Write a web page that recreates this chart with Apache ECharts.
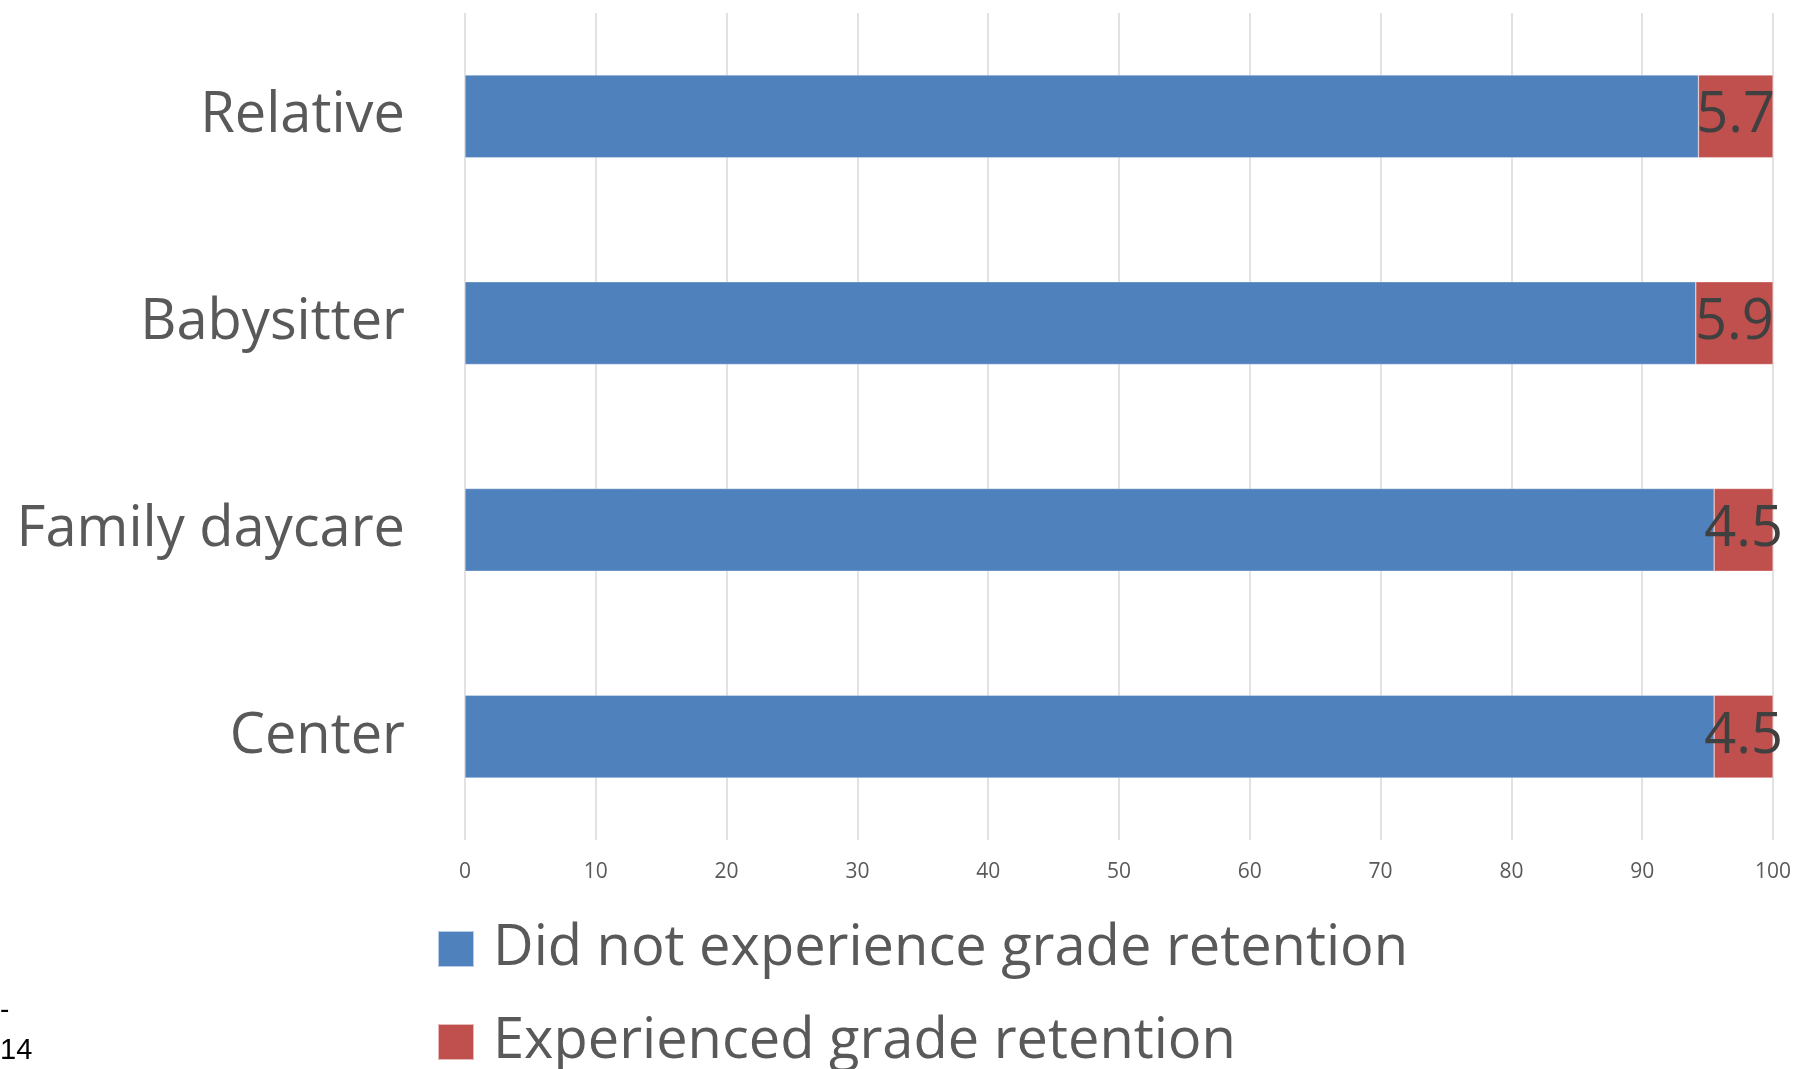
<!DOCTYPE html>
<html>
<head>
<meta charset="utf-8">
<script src="https://cdn.jsdelivr.net/npm/echarts@6/dist/echarts.min.js"></script>
<style>
  html, body { margin: 0; padding: 0; background: #ffffff; }
  #chart { width: 1799px; height: 1069px; }
</style>
</head>
<body>
<div id="chart"></div>
<script>
// Type of child care arrangement
const categories = ['Relative', 'Babysitter', 'Family daycare', 'Center'];
// Percent of children, by grade retention outcome
const notRetained = [94.3, 94.1, 95.5, 95.5];
const retained = [5.7, 5.9, 4.5, 4.5];
const seriesNames = ['Did not experience grade retention', 'Experienced grade retention'];
const xTicks = { min: 0, max: 100, interval: 10 };

const FONT = '"Open Sans", "Noto Sans", sans-serif';

const chart = echarts.init(document.getElementById('chart'), null, { renderer: 'canvas' });

chart.setOption({
  animation: false,
  backgroundColor: '#ffffff',
  grid: { left: 465, right: 26, top: 13, bottom: 229, containLabel: false },
  xAxis: {
    type: 'value',
    min: xTicks.min,
    max: xTicks.max,
    interval: xTicks.interval,
    axisLine: { show: false },
    axisTick: { show: false },
    axisLabel: { color: '#595959', fontFamily: FONT, fontSize: 21, margin: 22 },
    splitLine: { show: true, lineStyle: { color: '#d9d9d9', width: 1.5 } }
  },
  yAxis: {
    type: 'category',
    data: categories,
    inverse: true,
    axisLine: { show: false },
    axisTick: { show: false },
    axisLabel: {
      color: '#595959', fontFamily: FONT, fontSize: 56, lineHeight: 60,
      padding: [9, 0, 0, 0], margin: 60
    }
  },
  legend: {
    orient: 'vertical',
    left: 437,
    top: 921,
    height: 200,
    padding: 0,
    icon: 'rect',
    itemWidth: 36,
    itemHeight: 36,
    itemGap: 37,
    textStyle: { color: '#595959', fontFamily: FONT, fontSize: 56, lineHeight: 56, padding: [0, 0, 0, 14] },
    data: seriesNames
  },
  series: [
    {
      name: seriesNames[0],
      type: 'bar',
      stack: 'total',
      data: notRetained,
      barWidth: '40%',
      itemStyle: { color: '#4f81bd', borderColor: 'rgba(255,255,255,0.6)', borderWidth: 0.5 }
    },
    {
      name: seriesNames[1],
      type: 'bar',
      stack: 'total',
      data: retained,
      barWidth: '40%',
      itemStyle: { color: '#c0504d', borderColor: 'rgba(255,255,255,0.6)', borderWidth: 0.5 },
      label: {
        show: true,
        position: 'inside',
        color: '#404040',
        fontFamily: FONT,
        fontSize: 56,
        formatter: p => p.value.toFixed(1)
      }
    }
  ],
  graphic: [
    { type: 'text', left: 0, top: 996, style: { text: '-', fill: '#000000', font: '28px "Liberation Sans Narrow", "Liberation Sans", sans-serif' } },
    { type: 'text', left: 0, top: 1036, style: { text: '14', fill: '#000000', font: '29px "Liberation Sans Narrow", "Liberation Sans", sans-serif' } }
  ]
});
</script>
</body>
</html>
